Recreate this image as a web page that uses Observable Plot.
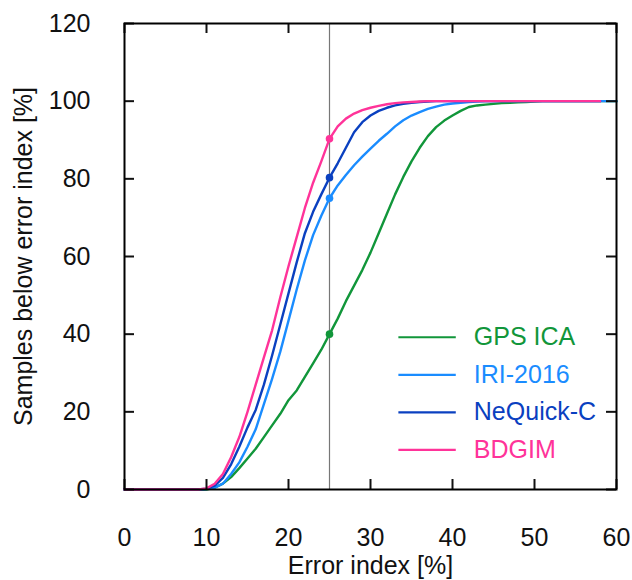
<!DOCTYPE html>
<html><head><meta charset="utf-8">
<script src="https://cdn.jsdelivr.net/npm/d3@7"></script>
<script src="https://cdn.jsdelivr.net/npm/@observablehq/plot@0.6"></script>
<style>body{margin:0;background:#fff}#chart{width:632px;height:580px}</style>
</head><body><div id="chart"></div>
<script>
// ---- data ----
const errorIndex = d3.range(0, 61); // 0..60 %
const seriesNames = ["GPS ICA", "IRI-2016", "NeQuick-C", "BDGIM"];
const seriesColors = ["#11963a", "#1a8cff", "#0a40c0", "#ff3399"];
const gpsIca = [0,0,0,0,0,0,0,0,0,0,0,
  0.5,1.5,3.2,5.5,8,10.5,13.5,16.5,19.5,23,25.5,29,32.5,36,40,44,48.5,52.5,56.5,61,66,71,76,80.5,84.5,88,91,93.3,95,96.3,97.5,98.5,98.9,99.1,99.3,99.5,99.6,99.7,99.8,99.9,
  100,100,100,100,100,100,100,100,100,100];
const iri2016 = [0,0,0,0,0,0,0,0,0,0,
  0.1,0.5,1.5,4,7,11,15.5,22,28.5,35.5,43.5,51.5,59,65.5,70.5,75,78.3,81,83.5,85.7,87.8,89.8,91.6,93.5,95.1,96.3,97.2,98,98.6,99.1,99.4,99.6,99.8,99.9,
  100,100,100,100,100,100,100,100,100,100,100,100,100,100,100,100,100];
const nequickC = [0,0,0,0,0,0,0,0,0,0,
  0.2,1,3,6.5,11,16,20.5,27,34.5,42.5,50.5,58.5,66,71.5,76,80.3,84,88,92,94.6,96.3,97.5,98.3,98.9,99.3,99.6,99.8,99.9,
  100,100,100,100,100,100,100,100,100,100,100,100,100,100,100,100,100,100,100,100,100];
const bdgim = [0,0,0,0,0,0,0,0,0,0,
  0.3,1.5,4,8.3,13.5,20,27,34,41,49.5,57.5,65,72.5,79,84.5,90.3,93.5,95.5,96.8,97.7,98.3,98.8,99.2,99.5,99.7,99.8,99.9,
  100,100,100,100,100,100,100,100,100,100,100,100,100,100,100,100,100,100,100,100,100,100];
const thresholdIndex = 25;            // vertical reference line
const valuesAtThreshold = [40, 75, 80.3, 90.3]; // marked points
const xTicks = [0, 10, 20, 30, 40, 50, 60];
const yTicks = [0, 20, 40, 60, 80, 100, 120];

// ---- build tables ----
const allValues = [gpsIca, iri2016, nequickC, bdgim];
const seriesRows = seriesNames.map((s, k) => errorIndex.map((x, i) => ({series: s, x, y: allValues[k][i]})));
const markers = seriesNames.map((s, k) => ({series: s, x: thresholdIndex, y: valuesAtThreshold[k]}));
// legend placed in data space (lower right)
const legend = seriesNames.map((s, k) => ({series: s, x1: 33.4, x2: 40.4, xt: 42.6, y: 39.2 - k * 9.66}));

// ---- layout ----
const W = 632, H = 580, mL = 124, mR = 16, mT = 23, mB = 91;
const plotW = W - mL - mR, plotH = H - mT - mB, tick = 10;
const font = "'Liberation Sans', Arial, sans-serif";

const color = {domain: seriesNames, range: seriesColors};

const chart = Plot.plot({
  width: W, height: H,
  marginLeft: mL, marginRight: mR, marginTop: mT, marginBottom: mB,
  style: {fontFamily: font, fontSize: "25px", color: "#111", background: "#fff", overflow: "visible"},
  x: {domain: [0, 60]},
  y: {domain: [0, 120]},
  color,
  marks: [
    Plot.ruleX([thresholdIndex], {stroke: "#777", strokeWidth: 1.2}),
    ...seriesRows.map(rows => Plot.line(rows, {x: "x", y: "y", stroke: "series", strokeWidth: 2.4})),
    Plot.dot(markers, {x: "x", y: "y", fill: "series", r: 3.8}),
    // legend
    Plot.link(legend, {x1: "x1", x2: "x2", y1: "y", y2: "y", stroke: "series", strokeWidth: 2.2}),
    Plot.text(legend, {x: "xt", y: "y", text: "series", fill: "series", textAnchor: "start", fontSize: 25}),
    // inward ticks on all four sides
    Plot.tickX(xTicks, {x: d => d, insetTop: plotH - tick, strokeWidth: 2}),
    Plot.tickX(xTicks, {x: d => d, insetBottom: plotH - tick, strokeWidth: 2}),
    Plot.tickY(yTicks, {y: d => d, insetRight: plotW - tick, strokeWidth: 2}),
    Plot.tickY(yTicks, {y: d => d, insetLeft: plotW - tick, strokeWidth: 2}),
    Plot.frame({stroke: "#000", strokeWidth: 2}),
    Plot.axisX(xTicks, {tickSize: 0, tickPadding: 39, fontSize: 25, label: "Error index [%]", labelAnchor: "center", labelOffset: 84, labelArrow: "none"}),
    Plot.axisY(yTicks, {tickSize: 0, tickPadding: 34, fontSize: 25, label: "Samples below error index [%]", labelAnchor: "center", labelOffset: 110, labelArrow: "none"})
  ]
});
document.getElementById("chart").appendChild(chart);
</script>
</body></html>
